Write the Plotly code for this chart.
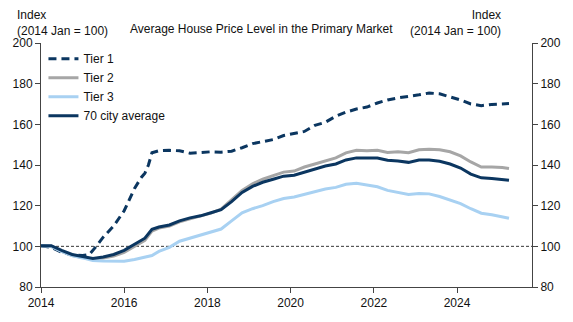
import plotly.graph_objects as go

# ---- data ----
tier1_dates = ["2014-01", "2014-04", "2014-07", "2014-10", "2015-01", "2015-03", "2015-05",
               "2015-07", "2015-10", "2016-01", "2016-04", "2016-06", "2016-07", "2016-08",
               "2016-09", "2016-11", "2017-02", "2017-05", "2017-08", "2017-11", "2018-02",
               "2018-05", "2018-08", "2018-11", "2019-02", "2019-05", "2019-08", "2019-11",
               "2020-02", "2020-05", "2020-08", "2020-11", "2021-02", "2021-05", "2021-08",
               "2021-11", "2022-02", "2022-05", "2022-08", "2022-11", "2023-02", "2023-05",
               "2023-08", "2023-11", "2024-02", "2024-05", "2024-08", "2024-11", "2025-02",
               "2025-04"]
tier1 = [100.3, 99.5, 97.0, 95.8, 95.5, 96.0, 100.0,
         104.5, 110.0, 117.5, 128.5, 134.0, 136.0, 140.0,
         146.0, 147.0, 147.2, 147.0, 145.8, 146.2, 146.5,
         146.3, 146.8, 148.5, 150.5, 151.5, 152.5, 154.5,
         155.5, 156.5, 159.5, 161.0, 164.0, 166.0, 167.5,
         168.5, 170.5, 172.0, 173.0, 173.6, 174.5, 175.4,
         175.0, 173.5, 172.0, 170.0, 169.2, 169.8, 170.0,
         170.2]

dates = ["2014-01", "2014-04", "2014-07", "2014-10", "2015-01", "2015-04", "2015-07",
         "2015-10", "2016-01", "2016-04", "2016-07", "2016-09", "2016-11", "2017-02",
         "2017-05", "2017-08", "2017-11", "2018-02", "2018-05", "2018-08", "2018-11",
         "2019-02", "2019-05", "2019-08", "2019-11", "2020-02", "2020-05", "2020-08",
         "2020-11", "2021-02", "2021-05", "2021-08", "2021-11", "2022-02", "2022-05",
         "2022-08", "2022-11", "2023-02", "2023-05", "2023-08", "2023-11", "2024-02",
         "2024-05", "2024-08", "2024-11", "2025-02", "2025-04"]
tier2 = [100.3, 100.0, 97.5, 95.5, 94.5, 93.8, 94.3,
         95.2, 97.0, 100.0, 103.0, 107.5, 109.0, 110.0,
         112.0, 113.5, 114.8, 116.3, 118.3, 123.0, 127.5,
         130.8, 133.0, 134.8, 136.5, 137.0, 139.0, 140.5,
         142.0, 143.5, 146.0, 147.2, 147.0, 147.2, 146.2,
         146.5, 146.0, 147.5, 147.8, 147.5, 146.5, 144.5,
         141.5, 139.0, 139.0, 138.8, 138.3]
tier3 = [100.3, 100.0, 97.5, 95.5, 94.3, 93.0, 92.8,
         92.7, 92.7, 93.5, 94.5, 95.5, 97.5, 99.5,
         102.5, 104.0, 105.5, 107.0, 108.5, 112.5, 116.5,
         118.5, 120.0, 122.0, 123.5, 124.3, 125.5, 127.0,
         128.2, 129.0, 130.5, 131.0, 130.2, 129.3, 127.5,
         126.5, 125.5, 126.0, 125.8, 124.5, 122.8, 121.0,
         118.5, 116.3, 115.5, 114.5, 113.8]
avg70 = [100.3, 100.3, 98.0, 96.0, 95.0, 94.0, 94.8,
         96.0, 98.0, 101.0, 104.0, 108.4, 109.5, 110.5,
         112.5, 114.0, 115.0, 116.5, 118.0, 122.0, 126.5,
         129.5, 131.5, 133.0, 134.5, 135.0, 136.5, 138.0,
         139.5, 140.5, 142.5, 143.5, 143.3, 143.4, 142.3,
         142.0, 141.3, 142.5, 142.5, 141.8, 140.5, 138.5,
         135.5, 133.7, 133.4, 133.0, 132.5]

baseline = 100
y_range = [80, 200]
x_range = ["2014-01-01", "2025-10-20"]

NAVY = "#0b3660"
GRAY = "#a6a6a6"
LIGHT = "#a8d1f2"
AXIS = "#444444"
FONT = "Liberation Sans, Arial, sans-serif"

fig = go.Figure()
fig.add_trace(go.Scatter(x=tier1_dates, y=tier1, name="Tier 1", mode="lines",
                         line=dict(color=NAVY, width=3, dash="8px,5px")))
fig.add_trace(go.Scatter(x=dates, y=tier2, name="Tier 2", mode="lines",
                         line=dict(color=GRAY, width=3)))
fig.add_trace(go.Scatter(x=dates, y=tier3, name="Tier 3", mode="lines",
                         line=dict(color=LIGHT, width=3)))
fig.add_trace(go.Scatter(x=dates, y=avg70, name="70 city average", mode="lines",
                         line=dict(color=NAVY, width=3)))
# invisible companion trace so the right-hand axis is drawn
fig.add_trace(go.Scatter(x=dates, y=avg70, yaxis="y2", mode="lines", showlegend=False,
                         hoverinfo="skip", line=dict(color="rgba(0,0,0,0)", width=0)))

fig.add_shape(type="line", xref="paper", x0=0, x1=1, yref="y", y0=baseline, y1=baseline,
              line=dict(color="black", width=0.8, dash="3px,2px"), layer="below")

axis_common = dict(showgrid=False, zeroline=False, showline=True, linecolor=AXIS, linewidth=1,
                   ticks="outside", ticklen=5, tickcolor=AXIS, tickwidth=1,
                   tickfont=dict(size=12, color="#111111", family=FONT))

fig.update_layout(
    width=573, height=322,
    margin=dict(l=41, r=40, t=43, b=32),
    paper_bgcolor="white", plot_bgcolor="white",
    font=dict(family=FONT, size=12, color="#111111"),
    showlegend=True,
    legend=dict(x=0.005, y=0.995, xanchor="left", yanchor="top", bgcolor="rgba(0,0,0,0)",
                font=dict(size=12), tracegroupgap=0, itemwidth=30),
    xaxis=dict(type="date", range=x_range, dtick="M24", tick0="2014-01-01", tickformat="%Y",
               **axis_common),
    yaxis=dict(range=y_range, dtick=20, **axis_common),
    yaxis2=dict(range=y_range, dtick=20, overlaying="y", side="right", **axis_common),
)

fig.add_annotation(text="Average House Price Level in the Primary Market", xref="paper", yref="paper",
                   x=(262 - 41) / 492, y=1, yshift=14, xanchor="center", yanchor="middle",
                   showarrow=False, font=dict(size=12))
fig.add_annotation(text="Index<br>(2014 Jan = 100)", xref="paper", yref="paper",
                   x=(15 - 41) / 492, y=1, yshift=20, xanchor="left", yanchor="middle", align="left",
                   showarrow=False, font=dict(size=12))
fig.add_annotation(text="Index<br>(2014 Jan = 100)", xref="paper", yref="paper",
                   x=(504 - 41) / 492, y=1, yshift=20, xanchor="right", yanchor="middle", align="right",
                   showarrow=False, font=dict(size=12))

fig.write_html("out.html")
